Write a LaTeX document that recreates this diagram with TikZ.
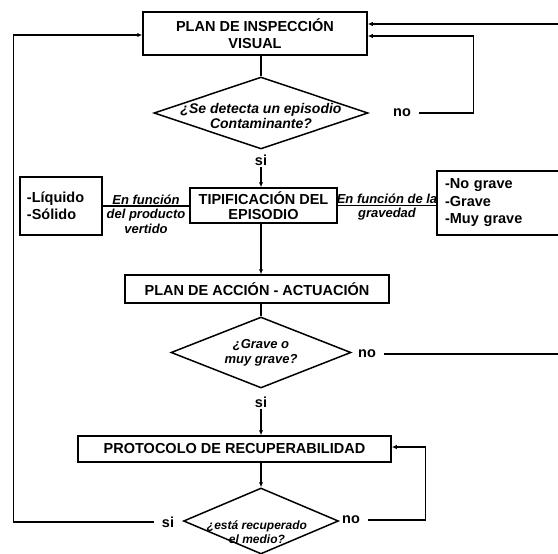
\documentclass[tikz,border=0pt]{standalone}
\usepackage{fontspec}
\setmainfont{Liberation Sans}
\usetikzlibrary{shapes.geometric,arrows.meta}

\tikzset{
    caja/.style={draw, line width=1.5pt, align=center, inner sep=0pt,
        font=\fontsize{14.5}{17}\selectfont\bfseries},
    rombo/.style={draw, diamond, line width=1.5pt, inner sep=0pt},
    pregunta/.style={align=center, inner sep=0pt,
        font=\fontsize{13}{15}\selectfont\bfseries\itshape},
    resp/.style={inner xsep=8pt, inner ysep=1pt,
        font=\fontsize{14.5}{16}\selectfont\bfseries},
    rotulo/.style={align=center, inner sep=0.8pt,
        font=\fontsize{13}{14.5}\selectfont\bfseries\itshape},
    linea/.style={line width=1.2pt},
    flecha/.style={line width=1.2pt, -{Latex[length=5pt,width=4.5pt]}}
}

\begin{document}
\begin{tikzpicture}[x=1pt, y=-1pt]
    \useasboundingbox (0,0) rectangle (558,554);
    \clip (0,0) rectangle (558,554);

    \node[caja, minimum width=224pt, minimum height=43pt]
        (insp) at (255,33.5) {PLAN DE INSPECCIÓN\\VISUAL};
    \node[rombo, minimum width=214pt, minimum height=72pt]
        (preg1) at (261,113) {};
    \node[pregunta, font=\fontsize{14}{15}\selectfont\bfseries\itshape]
        (preg1txt) at (261,116) {¿Se detecta un episodio\\Contaminante?};
    \node[resp] (no1) at (402,113) {no};
    \node[resp] (si1) at (261,160) {si};

    \node[caja, minimum width=147pt, minimum height=35pt,
        font=\fontsize{14.5}{15}\selectfont\bfseries]
        (tipo) at (263.5,205.5) {TIPIFICACIÓN DEL\\EPISODIO};
    \node[caja, minimum width=82pt, minimum height=58pt,
        align=left, text width=68pt]
        (prod) at (61,206) {-Líquido\\-Sólido};
    \node[caja, minimum width=125pt, minimum height=64pt,
        align=left, text width=109pt,
        font=\fontsize{14.5}{17.5}\selectfont\bfseries]
        (grav) at (499.5,203) {-No grave\\-Grave\\-Muy grave};

    \node[caja, minimum width=264pt, minimum height=28pt]
        (accion) at (257,289) {PLAN DE ACCIÓN - ACTUACIÓN};
    \node[rombo, minimum width=180pt, minimum height=71pt]
        (preg2) at (261,352.5) {};
    \node[pregunta] (preg2txt) at (261,353) {¿Grave o\\muy grave?};
    \node[resp] (no2) at (367,354) {no};
    \node[resp] (si2) at (261,402) {si};

    \node[caja, minimum width=313pt, minimum height=26pt]
        (prot) at (234.5,449) {PROTOCOLO DE RECUPERABILIDAD};
    \node[rombo, minimum width=155pt, minimum height=66pt]
        (preg3) at (261,521) {};
    \node[pregunta, font=\fontsize{12}{13.5}\selectfont\bfseries\itshape]
        (preg3txt) at (257,532) {¿está recuperado\\el medio?};
    \node[resp] (no3) at (351,520) {no};
    \node[resp] (si3) at (168,522) {si};

    \coordinate (entrada) at (558,24);
    \coordinate (salida) at (558,354);

    \draw[flecha] (entrada) -- (entrada -| insp.east);
    \draw[linea] (insp.south -| preg1.north) -- (preg1.north);
    \draw[flecha]
        (no1.east)
        -| ([xshift=106pt,yshift=-2.5pt]insp.east)
        -- ([yshift=-2.5pt]insp.east);
    \draw[flecha] (si1.south) -- (si1.south |- tipo.north);

    \draw[linea] (prod.east) -- (prod.east -| tipo.west)
        node[rotulo, midway, above] (prodlab1) {En función}
        node[rotulo, midway, below=2pt] (prodlab2) {del producto\\vertido};
    \draw[linea] (tipo.east) -- (tipo.east -| grav.west)
        node[rotulo, midway, above] (gravlab1) {En función de la}
        node[rotulo, midway, below=1pt] (gravlab2) {gravedad};

    \draw[flecha] (tipo.south -| preg1) -- (accion.north -| preg1);
    \draw[linea] (accion.south -| preg2.north) -- (preg2.north);
    \draw[linea] (no2.east) -- (salida);
    \draw[flecha] (si2.south) -- (si2.south |- prot.north);

    \draw[flecha] (prot.south -| preg3.north) -- (preg3.north);
    \draw[flecha]
        (no3.east)
        -| ([xshift=34pt,yshift=2pt]prot.east)
        -- ([yshift=2pt]prot.east);
    \draw[flecha]
        (si3.west)
        -| ([xshift=-129pt,yshift=-1.5pt]insp.west)
        -- ([yshift=-1.5pt]insp.west);
\end{tikzpicture}
\end{document}
